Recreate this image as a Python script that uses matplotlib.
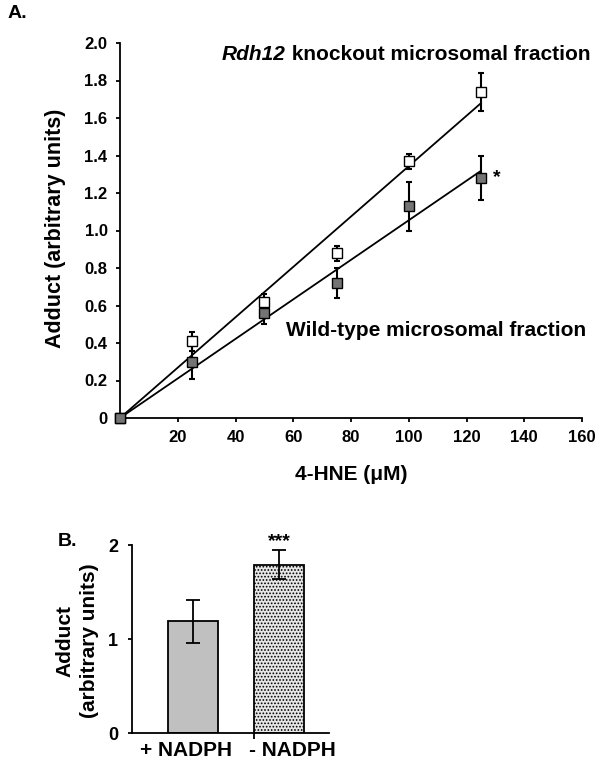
import numpy as np
import matplotlib
matplotlib.use("Agg")
import matplotlib.pyplot as plt

plt.rcParams['font.family'] = ['Liberation Sans', 'DejaVu Sans']
plt.rcParams['font.weight'] = 'bold'
plt.rcParams['hatch.color'] = '#a8a8a8'
plt.rcParams['hatch.linewidth'] = 0.8

# Panel A data
hne = [0, 25, 50, 75, 100, 125]
ko_vals = [0.0, 0.41, 0.62, 0.88, 1.37, 1.74]
ko_err = [0.0, 0.05, 0.04, 0.04, 0.04, 0.10]
wt_vals = [0.0, 0.30, 0.56, 0.72, 1.13, 1.28]
wt_err = [0.0, 0.09, 0.06, 0.08, 0.13, 0.12]
a_xticks = [20, 40, 60, 80, 100, 120, 140, 160]
a_yticks = [0, 0.2, 0.4, 0.6, 0.8, 1.0, 1.2, 1.4, 1.6, 1.8, 2.0]

# Panel B data
b_labels = ['+ NADPH', '- NADPH']
b_vals = [1.19, 1.79]
b_err = [0.23, 0.155]

W, H = 605, 764
fig = plt.figure(figsize=(6.05, 7.64), dpi=100)

# ---------- Panel A ----------
axA = fig.add_axes([120/W, 1-418/H, (582-120)/W, (418-43)/H])
x = np.array(hne, dtype=float)
for vals, err, fc in [(ko_vals, ko_err, 'white'), (wt_vals, wt_err, '#747474')]:
    y = np.array(vals)
    slope = np.sum(x*y)/np.sum(x*x)
    axA.plot([0, x[-1]], [0, slope*x[-1]], color='black', lw=1.3, zorder=2)
    axA.errorbar(x, y, yerr=err, fmt='none', ecolor='black', elinewidth=1.5,
                 capsize=2.5, capthick=1.5, zorder=3, clip_on=False)
    axA.plot(x, y, 's', ms=7.5, mfc=fc, mec='black', mew=1.0, zorder=4,
             clip_on=False)

axA.set_xlim(0, 160)
axA.set_ylim(0, 2.0)
axA.set_xticks(a_xticks)
axA.set_xticklabels([str(t) for t in a_xticks])
axA.set_yticks(a_yticks)
axA.set_yticklabels(['0'] + ['%.1f' % t for t in a_yticks[1:]])
for s in ['top', 'right']:
    axA.spines[s].set_visible(False)
for s in ['left', 'bottom']:
    axA.spines[s].set_linewidth(1.3)
axA.tick_params(axis='both', labelsize=12, width=1.3, length=3)
axA.tick_params(axis='y', pad=6)
axA.tick_params(axis='x', pad=6)
axA.set_xlabel('4-HNE (\u03bcM)', fontsize=15, fontweight='bold', labelpad=14)
fig.text(55/W, 1-228/H, 'Adduct (arbitrary units)', rotation=90, fontsize=15.5,
         fontweight='bold', ha='center', va='center')

t1 = fig.text(222/W, 1-54/H, 'Rdh12', fontsize=15, fontweight='bold',
              fontstyle='italic', ha='left', va='center')
fig.canvas.draw()
bb = t1.get_window_extent()
fig.text(bb.x1/W, 1-54/H, ' knockout microsomal fraction', fontsize=15,
         fontweight='bold', ha='left', va='center')
fig.text(586/W, 1-330/H, 'Wild-type microsomal fraction', fontsize=15,
         fontweight='bold', ha='right', va='center')
axA.text(130.5, wt_vals[-1], '*', fontsize=14, fontweight='bold', ha='center', va='center')
fig.text(8/W, 1-14/H, 'A.', fontsize=14, fontweight='bold', ha='left', va='center')

# ---------- Panel B ----------
axB = fig.add_axes([132/W, 1-733/H, (329-132)/W, (733-545)/H])
pos = [0, 1]
axB.bar(pos[0], b_vals[0], width=0.58, color='#c0c0c0', edgecolor='black', lw=1.3, zorder=2)
axB.bar(pos[1], b_vals[1], width=0.57, color='#e6e6e6', edgecolor='black', lw=1.3,
        hatch='.....', zorder=2)
axB.errorbar(pos, b_vals, yerr=b_err, fmt='none', ecolor='black', elinewidth=1.3,
             capsize=5, capthick=1.3, zorder=3)
px = 86.0
axB.set_xlim(-(193-132)/px, (329-193)/px)
axB.set_ylim(0, 2)
axB.set_yticks([0, 1, 2])
axB.set_xticks([(254-193)/px], minor=True)
axB.set_xticks([(186-193)/px, (292-193)/px])
axB.set_xticklabels(b_labels, fontsize=15, fontweight='bold')
axB.tick_params(axis='x', which='major', length=0, pad=6)
axB.tick_params(axis='x', which='minor', length=4, width=1.3)
axB.tick_params(axis='y', labelsize=13, width=1.3, length=3, pad=7)
for s in ['top', 'right']:
    axB.spines[s].set_visible(False)
for s in ['left', 'bottom']:
    axB.spines[s].set_linewidth(1.3)
fig.text(77/W, 1-641/H, 'Adduct\n(arbitrary units)', rotation=90, fontsize=15,
         fontweight='bold', ha='center', va='center', multialignment='center',
         linespacing=1.35)
axB.text(pos[1], b_vals[1] + b_err[1] + 0.09, '***', fontsize=14, fontweight='bold',
         ha='center', va='center')
fig.text(58/W, 1-541/H, 'B.', fontsize=14, fontweight='bold', ha='left', va='center')

fig.savefig('out.png', dpi=100)
